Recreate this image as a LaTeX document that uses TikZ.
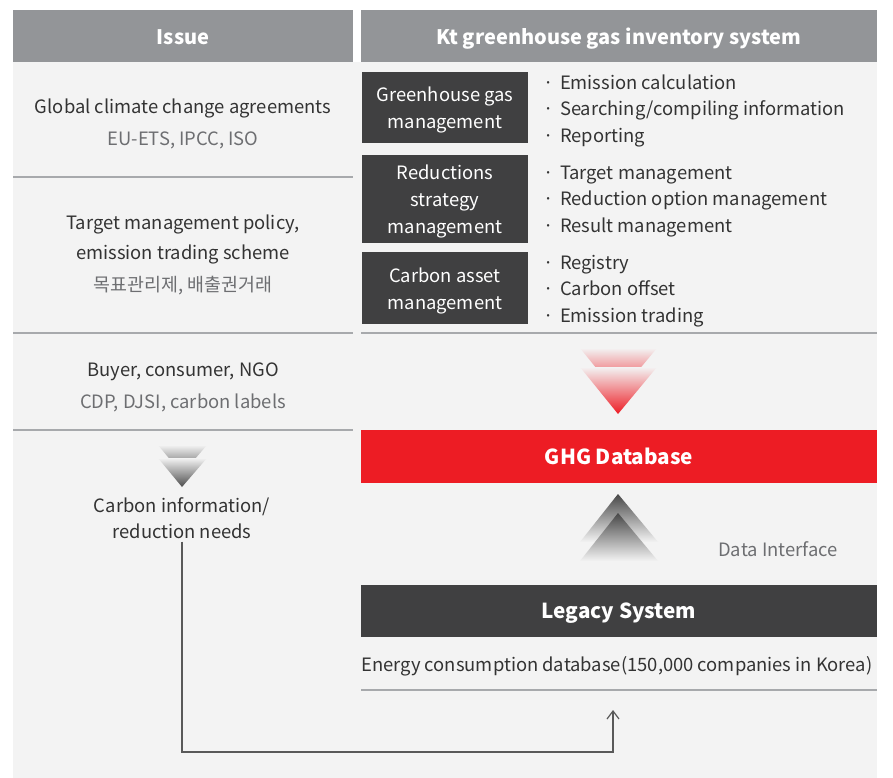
\documentclass[tikz,border=0pt]{standalone}
\usepackage{fontspec}
\setmainfont{Noto Sans CJK KR}
\usetikzlibrary{arrows.meta}
\definecolor{chead}{HTML}{939598}
\definecolor{cdark}{HTML}{404041}
\definecolor{cred}{HTML}{ED1C24}
\definecolor{cbg}{HTML}{F3F3F3}
\definecolor{ctext}{HTML}{333333}
\definecolor{csub}{HTML}{6D6E71}
\definecolor{cline}{HTML}{A7A9AC}
\tikzset{
  txt/.style={anchor=base,inner sep=0pt,text=ctext,font=\fontsize{13.8}{16}\selectfont},
  subtxt/.style={anchor=base,inner sep=0pt,text=csub,font=\fontsize{13.8}{16}\selectfont},
  headtxt/.style={anchor=base,inner sep=0pt,text=white,font=\fontsize{15}{18}\selectfont\bfseries},
  boxtxt/.style={text=white,align=center,font=\fontsize{13.8}{20.25}\selectfont},
  bullet/.style={anchor=base west,text=ctext,inner sep=0pt,font=\fontsize{13.8}{16}\selectfont},
  sep/.style={cline,line width=1.5pt},
  conn/.style={draw=black!65,line width=0.9pt,-{Straight Barb[length=6pt,width=9pt]}},
}

\begin{document}
\begin{tikzpicture}[x=0.75pt,y=-0.75pt]
 \useasboundingbox (0,0) rectangle (893,778);
 \fill[white](0,0)rectangle(893,778);
 \fill[cbg](13,10)rectangle(877,778);
 % ---- headers ----
 \fill[white](353,10)rectangle(361,62);
 \fill[chead](13,10)rectangle(353,62);
 \fill[chead](361,10)rectangle(877,62);
 \node[headtxt] (hissue) at (183,44){Issue};
 \node[headtxt] (hsystem) at (619,44){Kt greenhouse gas inventory system};
 % ---- issue column ----
 \foreach \y in {177,333,430}\draw[sep](13,\y)--(353,\y);
 \node[txt] (gcca) at (183,113){Global climate change agreements};
 \node[subtxt] (euets) at (183,145){EU-ETS, IPCC, ISO};
 \node[txt] (tmp) at (183,229.5){Target management policy,};
 \node[txt] (ets) at (183,259.5){emission trading scheme};
 \node[subtxt] (kor) at (183,291){목표관리제, 배출권거래};
 \node[txt] (buyer) at (183,376.5){Buyer, consumer, NGO};
 \node[subtxt] (cdp) at (183,408.5){CDP, DJSI, carbon labels};
 % down chevron
 \foreach \t in {445,458}
   \shade[top color=cbg,bottom color=black!70](158,\t)--(207,\t)--(182,\t+29)--cycle;
 \node[anchor=center,inner sep=2pt,text=ctext,align=center,font=\fontsize{13.8}{19.5}\selectfont] (needs) at (182,518){Carbon information/\\reduction needs};
 % ---- management boxes ----
 \foreach \ya/\yb/\lab [count=\i] in {72/143/{Greenhouse gas\\management},
   155/243/{Reductions\\strategy\\management}, 252/324/{Carbon asset\\management}} {
   \fill[cdark](362,\ya)rectangle(528,\yb);
   \node[boxtxt] (mg\i) at (445,{(\ya+\yb)/2+2.5}){\lab};}
 % ---- bullet items ----
 \foreach \y/\t [count=\i] in {89/Emission calculation, 115/Searching\slash compiling information,
   142/Reporting, 179/Target management, 205/Reduction option management, 232/Result management,
   269/Registry, 295/Carbon offset, 322/Emission trading}
   \node[bullet] (it\i) at (543,\y){·\hspace{0.35em}\t};
 \draw[sep](361,333)--(877,333);
 % red chevron
 \foreach \t in {348,367}
   \shade[top color=cbg,bottom color=cred](580,\t)--(657,\t)--(618,\t+47)--cycle;
 % ---- database bars ----
 \fill[cred](361,430)rectangle(877,483);
 \node[headtxt,font=\fontsize{15.5}{18}\selectfont\bfseries] (ghgdb) at (619,464){GHG Database};
 % up chevron
 \foreach \t in {494,513}
   \shade[top color=black!72,bottom color=cbg](618,\t)--(658,\t+48)--(580,\t+48)--cycle;
 \node[subtxt] (dif) at (778,556.5){Data Interface};
 \fill[cdark](361,585)rectangle(877,637);
 \node[headtxt,font=\fontsize{15.5}{18}\selectfont\bfseries] (legacy) at (619,618){Legacy System};
 \node[txt,anchor=base west] (energy) at (361,671.5){Energy consumption database(150,000 companies in Korea)};
 \draw[sep](361,690)--(877,690);
 % ---- feedback connector ----
 \coordinate (arrowend) at (613,710);
 \draw[conn](needs.south)--(needs.south|-0,752)-|(arrowend);
\end{tikzpicture}
\end{document}
